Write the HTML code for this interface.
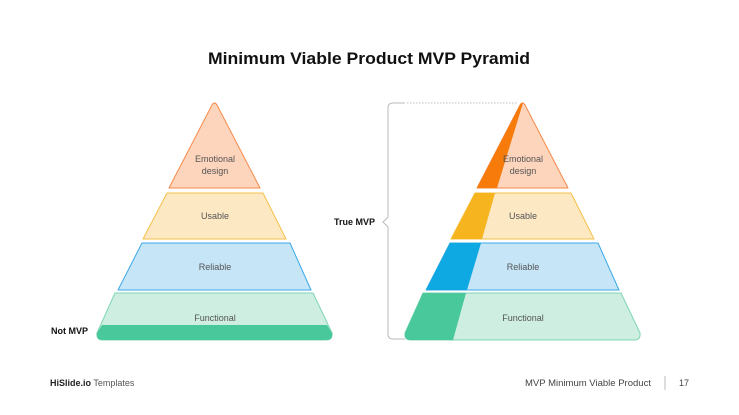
<!DOCTYPE html>
<html><head><meta charset="utf-8"><style>
html,body{margin:0;padding:0;background:#fff;}
svg{display:block;font-family:"Liberation Sans",sans-serif;}
</style></head><body>
<svg width="739" height="415" viewBox="0 0 739 415" xmlns="http://www.w3.org/2000/svg">
<text x="369" y="64" text-anchor="middle" font-size="17" font-weight="bold" fill="#111" textLength="322" lengthAdjust="spacingAndGlyphs">Minimum Viable Product MVP Pyramid</text>

<g stroke-width="1" stroke-linejoin="round">
 <path d="M212 105 Q214.5 101 217 105 L260 188 L169 188 Z" fill="#fdd5bc" stroke="#f7894a"/>
 <path d="M167 193 L263 193 L286 239 L143 239 Z" fill="#fde8c4" stroke="#f7c04a"/>
 <path d="M142 243 L290 243 L311 290 L118 290 Z" fill="#c6e5f7" stroke="#3aa8e8"/>
 <path d="M115 293 L313 293 L332 333 Q333 340 326 340 L103 340 Q96 340 97 333 Z" fill="#cdeee0" stroke="#7fd6b3"/>
 <path d="M102 325 L327 325 L332 333 Q333 340 326 340 L103 340 Q96 340 97 333 Z" fill="#48c89b"/>
</g>
<g font-size="9" fill="#555" text-anchor="middle">
 <text x="215" y="162">Emotional</text><text x="215" y="174">design</text>
 <text x="215" y="219">Usable</text>
 <text x="215" y="270">Reliable</text>
 <text x="215" y="321">Functional</text>
</g>
<text x="51" y="334" font-size="9" font-weight="bold" fill="#111">Not MVP</text>

<g stroke-width="1" stroke-linejoin="round">
 <path d="M520 105 Q522.5 101 525 105 L568 188 L477 188 Z" fill="#fdd5bc" stroke="#f7894a"/>
 <path d="M520 105 Q522 102 523 103 L497 188 L477 188 Z" fill="#f77b0a"/>
 <path d="M475 193 L571 193 L594 239 L451 239 Z" fill="#fde8c4" stroke="#f7c04a"/>
 <path d="M475 193 L495 193 L482 239 L451 239 Z" fill="#f6b51e"/>
 <path d="M450 243 L598 243 L619 290 L426 290 Z" fill="#c6e5f7" stroke="#3aa8e8"/>
 <path d="M450 243 L481 243 L467 290 L426 290 Z" fill="#0ea8e3"/>
 <path d="M423 293 L621 293 L640 333 Q641 340 634 340 L411 340 Q404 340 405 333 Z" fill="#cdeee0" stroke="#7fd6b3"/>
 <path d="M423 293 L466 293 L453 340 L411 340 Q404 340 405 333 Z" fill="#48c89b"/>
</g>
<g font-size="9" fill="#555" text-anchor="middle">
 <text x="523" y="162">Emotional</text><text x="523" y="174">design</text>
 <text x="523" y="219">Usable</text>
 <text x="523" y="270">Reliable</text>
 <text x="523" y="321">Functional</text>
</g>

<path d="M405 103 L393 103 Q388 103 388 108 L388 217 L383 222 L388 227 L388 334 Q388 339 393 339 L405 339" fill="none" stroke="#bbb" stroke-width="1"/>
<line x1="407" y1="103" x2="518" y2="103" stroke="#aaa" stroke-width="0.8" stroke-dasharray="1.5,1.5"/>
<text x="334" y="225" font-size="9" font-weight="bold" fill="#111">True MVP</text>

<text x="50" y="386" font-size="9" fill="#222"><tspan font-weight="bold">HiSlide.io</tspan><tspan fill="#555"> Templates</tspan></text>
<text x="525" y="386" font-size="9" fill="#444" textLength="126" lengthAdjust="spacingAndGlyphs">MVP Minimum Viable Product</text>
<line x1="665" y1="376" x2="665" y2="390" stroke="#bbb" stroke-width="1"/>
<text x="679" y="386" font-size="9" fill="#444">17</text>
</svg>
</body></html>
